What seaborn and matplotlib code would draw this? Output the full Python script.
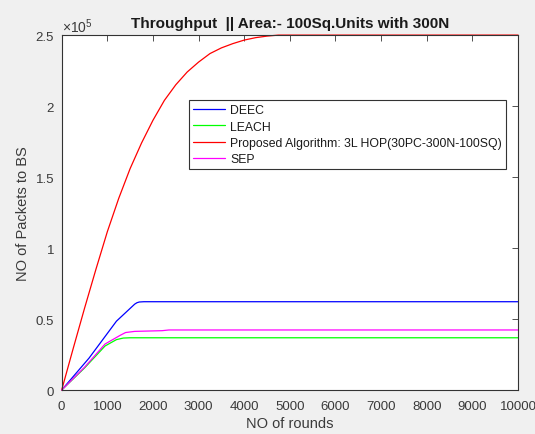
import matplotlib
matplotlib.use("Agg")
import matplotlib.pyplot as plt
from matplotlib.ticker import FuncFormatter, MultipleLocator
import seaborn as sns
import pandas as pd

# Throughput (packets delivered to the base station) versus round number
deec_rounds = [0, 600, 1200, 1600, 1650, 1700, 1800, 10000]
deec_packets = [0, 22500, 48500, 60500, 61500, 62000, 62200, 62200]

leach_rounds = [0, 500, 950, 1200, 1350, 1500, 10000]
leach_packets = [0, 15500, 31000, 35500, 36600, 36800, 36800]

proposed_rounds = [0, 250, 500, 750, 1000, 1250, 1500, 1750, 2000, 2250, 2500,
                   2750, 3000, 3250, 3500, 3750, 4000, 4250, 4500, 4750, 10000]
proposed_packets = [0, 29000, 57500, 85000, 111500, 135000, 156000, 174000,
                    190000, 204000, 215000, 224000, 231000, 237000, 241000,
                    244000, 246500, 248200, 249300, 250000, 250000]

sep_rounds = [0, 500, 950, 1280, 1400, 1600, 2200, 2350, 10000]
sep_packets = [0, 16000, 32400, 38500, 40500, 41300, 41800, 42300, 42300]

series_names = ["DEEC", "LEACH",
                "Proposed Algorithm: 3L HOP(30PC-300N-100SQ)", "SEP"]
series_colors = ["#0000ff", "#00ff00", "#ff0000", "#ff00ff"]

frames = []
for name, r, p in zip(series_names,
                      [deec_rounds, leach_rounds, proposed_rounds, sep_rounds],
                      [deec_packets, leach_packets, proposed_packets, sep_packets]):
    frames.append(pd.DataFrame({"round": r, "packets": p, "protocol": name}))
df = pd.concat(frames, ignore_index=True)

sns.set_theme(style="white")
plt.rcParams["font.family"] = ["Liberation Sans", "DejaVu Sans"]
plt.rcParams["mathtext.fontset"] = "custom"
plt.rcParams["mathtext.rm"] = "Liberation Sans"
plt.rcParams["mathtext.it"] = "Liberation Sans"

fig = plt.figure(figsize=(5.35, 4.35), dpi=100, facecolor="#f0f0f0")
ax = fig.add_axes([0.1153, 0.1011, 0.853, 0.8159])
ax.set_facecolor("white")

sns.lineplot(data=df, x="round", y="packets", hue="protocol",
             hue_order=series_names,
             palette=dict(zip(series_names, series_colors)),
             estimator=None, sort=False, linewidth=0.9, ax=ax)
for line in ax.get_lines():
    line.set_clip_on(False)

ax.set_xlim(0, 10000)
ax.set_ylim(0, 250000)
ax.xaxis.set_major_locator(MultipleLocator(1000))
ax.yaxis.set_major_locator(MultipleLocator(50000))
ax.yaxis.set_major_formatter(FuncFormatter(lambda v, _: f"{v / 1e5:g}"))
ax.xaxis.set_major_formatter(FuncFormatter(lambda v, _: f"{v:g}"))

text_color = "#3a3a3a"
ax.tick_params(direction="in", top=True, right=True, length=4, width=0.6,
               color="#333333", labelsize=9.5, labelcolor=text_color)
ax.tick_params(axis="x", pad=7)
ax.tick_params(axis="y", pad=5.5)
for sp in ax.spines.values():
    sp.set_color("#333333")
    sp.set_linewidth(0.8)

ax.text(0.0, 1.0, r"$\times10^{5}$", transform=ax.transAxes,
        ha="left", va="bottom", fontsize=10, color=text_color)

ax.set_title("Throughput  || Area:- 100Sq.Units with 300N",
             fontsize=11, fontweight="bold", color="#1a1a1a", pad=6)
ax.set_xlabel("NO of rounds", fontsize=10.5, color=text_color, labelpad=3)
ax.set_ylabel("NO of Packets to BS", fontsize=10.5, color=text_color, labelpad=4)

leg = ax.legend(loc="upper right", bbox_to_anchor=(0.974, 0.817),
                fontsize=8.8, frameon=True, fancybox=False, framealpha=1,
                edgecolor="#333333", handlelength=2.6, labelspacing=0.35,
                borderpad=0.35, handletextpad=0.4, borderaxespad=0)
leg.get_frame().set_linewidth(0.8)
for t in leg.get_texts():
    t.set_color("#1a1a1a")

fig.savefig("out.png", dpi=100, facecolor=fig.get_facecolor())
